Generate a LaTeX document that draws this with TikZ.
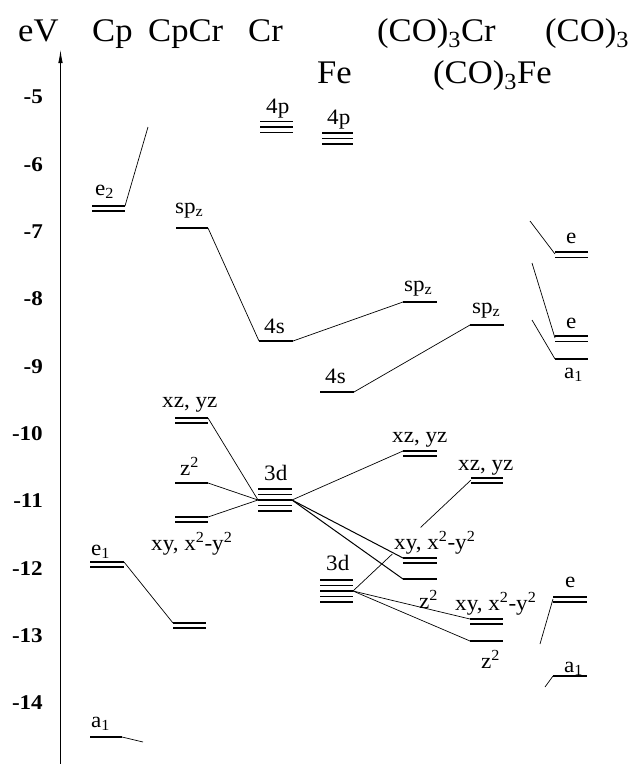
\documentclass[tikz,border=0pt]{standalone}
\usepackage{fontspec}
\setmainfont{Liberation Serif}
\usepackage{graphicx}
\usetikzlibrary{arrows.meta,calc}
\newcommand\wx[1]{\scalebox{1.05}[1]{#1}}
\newcommand\wn[1]{\scalebox{1.1}[1]{#1}}
\newcommand\lvls[3]{\foreach \yy in {#3}{\draw[lvl] (#1,\yy) -- (#2,\yy);}}
\begin{document}
\begin{tikzpicture}[x=1pt,y=-1pt,
  lvl/.style={line width=1.4pt},
  conn/.style={line width=0.7pt},
  lab/.style={inner sep=0pt,anchor=base west,font=\fontsize{22}{26}\selectfont},
  head/.style={inner sep=0pt,anchor=base west,font=\fontsize{33}{38}\selectfont},
  num/.style={inner sep=0pt,anchor=east,font=\fontsize{21}{25}\selectfont\bfseries}]
\useasboundingbox (0,0) rectangle (629,764);
\fill[white] (0,0) rectangle (629,764);

% axis
\coordinate (axB) at (60.5,764);
\coordinate (axT) at (60.5,50);
\draw[line width=0.8pt,-{Latex[length=13pt,width=4.5pt]}] (axB) -- (axT);
\foreach \v [count=\i from 0] in {5,...,14}
  \node[num] (n\v) at (43,97+67.3*\i) {\wn{-\v}};

% headings
\node[head] (hEV) at (18,41) {\wx{eV}};
\node[head] (hCp) at (92,41) {\wx{Cp}};
\node[head] (hCpCr) at (148,41) {\wx{CpCr}};
\node[head] (hCr) at (248,41) {\wx{Cr}};
\node[head] (hCOCr) at (377,41) {\wx{(CO)\textsubscript{3}Cr}};
\node[head] (hCO) at (545,41) {\wx{(CO)\textsubscript{3}}};
\node[head] (hFe) at (317,83) {\wx{Fe}};
\node[head] (hCOFe) at (433,83) {\wx{(CO)\textsubscript{3}Fe}};

% levels
\lvls{260}{293}{121.5,127,132.5}
\lvls{322}{353}{133,138.5,144}
\lvls{92}{125}{206,211}
\lvls{176}{208}{228}
\lvls{259}{293}{341}
\lvls{403}{437}{302}
\lvls{320}{354}{392}
\lvls{470}{504}{325}
\lvls{555}{588}{252,257.5}
\lvls{555}{588}{336,341.5}
\lvls{555}{588}{359}
\lvls{553}{587}{597,602}
\lvls{553}{587}{676}
\lvls{90}{124}{562,567}
\lvls{173}{206}{623,628}
\lvls{90}{122}{737}
\lvls{175}{208}{418,423}
\lvls{175}{208}{483}
\lvls{175}{208}{517,522}
\lvls{258}{292}{489,494.5,500,505.5,511}
\lvls{403}{437}{451,456}
\lvls{403}{437}{558,563}
\lvls{403}{437}{579}
\lvls{320}{353}{580,585.5,591,596.5,602}
\lvls{471}{503}{478,483}
\lvls{470}{503}{619,624}
\lvls{470}{503}{641}

% connection points
\coordinate (e2R) at (125,206);   \coordinate (e2F) at (148,127);
\coordinate (spzCpCrR) at (208,228);
\coordinate (cr4sL) at (259,341); \coordinate (cr4sR) at (293,341);
\coordinate (crSpzL) at (403,302);
\coordinate (fe4sR) at (354,392); \coordinate (feSpzL) at (470,325);
\coordinate (eTopF) at (530,221); \coordinate (eTopL) at (555,254);
\coordinate (eMidF) at (532,263); \coordinate (eMidL) at (555,338);
\coordinate (aMidF) at (532,320); \coordinate (aMidL) at (555,359);
\coordinate (eLowF) at (540,644); \coordinate (eLowL) at (553,599);
\coordinate (aLowF) at (545,687); \coordinate (aLowL) at (553,676);
\coordinate (e1R) at (124,562);   \coordinate (cpcrLowL) at (173,623);
\coordinate (a1R) at (122,737);   \coordinate (a1F) at (143,742);
\coordinate (xzCpCrR) at (208,418);
\coordinate (z2CpCrR) at (208,483);
\coordinate (xyCpCrR) at (208,517);
\coordinate (cr3dL) at (258,500); \coordinate (cr3dR) at (292,500);
\coordinate (xzCrL) at (403,451);
\coordinate (xyCrL) at (403,558);
\coordinate (z2CrL) at (403,579);
\coordinate (fe3dR) at (353,591);
\coordinate (xzFeL) at (471,480);
\coordinate (xyFeL) at (470,619);
\coordinate (z2FeL) at (470,641);

% connectors
\draw[conn] (e2R) -- (e2F);
\draw[conn] (spzCpCrR) -- (cr4sL);
\draw[conn] (cr4sR) -- (crSpzL);
\draw[conn] (fe4sR) -- (feSpzL);
\draw[conn] (eTopF) -- (eTopL);
\draw[conn] (eMidF) -- (eMidL);
\draw[conn] (aMidF) -- (aMidL);
\draw[conn] (eLowF) -- (eLowL);
\draw[conn] (aLowF) -- (aLowL);
\draw[conn] (e1R) -- (cpcrLowL);
\draw[conn] (a1R) -- (a1F);
\draw[conn] (xzCpCrR) -- (cr3dL);
\draw[conn] (z2CpCrR) -- (cr3dL);
\draw[conn] (xyCpCrR) -- (cr3dL);
\draw[conn] (cr3dR) -- (xzCrL);
\draw[conn,line width=1pt] (cr3dR) -- (xyCrL);
\draw[conn,line width=1pt] (cr3dR) -- (z2CrL);
\draw[conn] (fe3dR) -- ($(fe3dR)!0.333!(xzFeL)$);
\draw[conn] ($(fe3dR)!0.573!(xzFeL)$) -- (xzFeL);
\draw[conn] (fe3dR) -- (xyFeL);
\draw[conn] (fe3dR) -- (z2FeL);

% labels
\node[lab] (l4pCr) at (266,113) {\wx{4p}};
\node[lab] (l4pFe) at (327,124) {\wx{4p}};
\node[lab] (le2) at (95,195) {\wx{e\textsubscript{2}}};
\node[lab] (le1) at (91,555) {\wx{e\textsubscript{1}}};
\node[lab] (la1Cp) at (91,727) {\wx{a\textsubscript{1}}};
\node[lab] (lspzCpCr) at (175,213) {\wx{sp\textsubscript{z}}};
\node[lab] (l4sCr) at (264,333) {\wx{4s}};
\node[lab] (l4sFe) at (325,383) {\wx{4s}};
\node[lab] (lspzCr) at (404,291) {\wx{sp\textsubscript{z}}};
\node[lab] (lspzFe) at (472,313) {\wx{sp\textsubscript{z}}};
\node[lab] (leTop) at (566,243) {\wx{e}};
\node[lab] (leMid) at (566,328) {\wx{e}};
\node[lab] (la1Mid) at (564,378) {\wx{a\textsubscript{1}}};
\node[lab] (leLow) at (565,587) {\wx{e}};
\node[lab] (la1Low) at (564,672) {\wx{a\textsubscript{1}}};
\node[lab] (lxzCpCr) at (162,407) {\wx{xz, yz}};
\node[lab] (lz2CpCr) at (180,475) {\wx{z\textsuperscript{2}}};
\node[lab] (lxyCpCr) at (151,550) {\wx{xy, x\textsuperscript{2}-y\textsuperscript{2}}};
\node[lab] (l3dCr) at (264,480) {\wx{3d}};
\node[lab] (l3dFe) at (326,570) {\wx{3d}};
\node[lab] (lxzCr) at (392,442) {\wx{xz, yz}};
\node[lab] (lxzFe) at (458,470) {\wx{xz, yz}};
\node[lab] (lxyCr) at (394,549) {\wx{xy, x\textsuperscript{2}-y\textsuperscript{2}}};
\node[lab] (lz2Cr) at (419,608) {\wx{z\textsuperscript{2}}};
\node[lab] (lxyFe) at (455,610) {\wx{xy, x\textsuperscript{2}-y\textsuperscript{2}}};
\node[lab] (lz2Fe) at (481,668) {\wx{z\textsuperscript{2}}};
\end{tikzpicture}
\end{document}
